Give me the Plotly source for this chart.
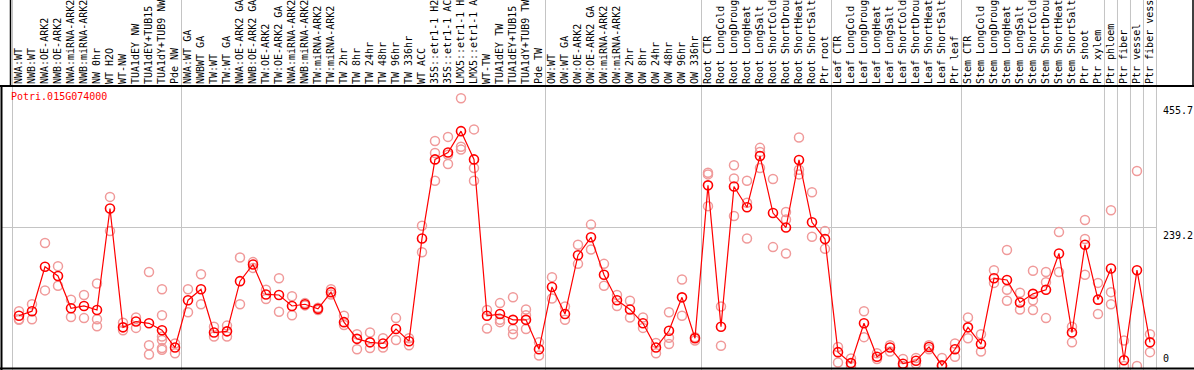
import plotly.graph_objects as go

gene_id = "Potri.015G074000"

labels = [
    "NWA:WT", "NWB:WT", "NWA:OE-ARK2", "NWB:OE-ARK2", "NWA:miRNA-ARK2", "NWB:miRNA-ARK2",
    "NW 0hr", "WT H2O", "WT-NW", "TUA1dEY NW", "TUA1dEY+TUB15 NW", "TUA1dY+TUB9 NW", "Pde NW",
    "NWA:WT GA", "NWBWT GA", "TW:WT", "TW:WT GA", "NWA:OE-ARK2 GA", "NWB:OE-ARK2 GA",
    "TW:OE-ARK2", "TW:OE-ARK2 GA", "NWA:miRNA-ARK2", "NWB:miRNA-ARK2", "TW:miRNA-ARK2",
    "TW:miRNA-ARK2", "TW 2hr", "TW 8hr", "TW 24hr", "TW 48hr", "TW 96hr", "TW 336hr", "WT ACC",
    "35S::etr1-1 H2O", "35S::etr1-1 ACC", "LMX5::etr1-1 H2O", "LMX5::etr1-1 ACC", "WT-TW",
    "TUA1dEY TW", "TUA1dEY+TUB15 TW", "TUA1dY+TUB9 TW", "Pde TW",
    "OW:WT", "OW:WT GA", "OW:OE-ARK2", "OW:OE-ARK2 GA", "OW:miRNA-ARK2", "OW:miRNA-ARK2",
    "OW 2hr", "OW 8hr", "OW 24hr", "OW 48hr", "OW 96hr", "OW 336hr",
    "Root CTR", "Root LongCold", "Root LongDrought", "Root LongHeat", "Root LongSalt",
    "Root ShortCold", "Root ShortDrought", "Root ShortHeat", "Root ShortSalt", "Ptr root",
    "Leaf CTR", "Leaf LongCold", "Leaf LongDrought", "Leaf LongHeat", "Leaf LongSalt",
    "Leaf ShortCold", "Leaf ShortDrought", "Leaf ShortHeat", "Leaf ShortSalt", "Ptr leaf",
    "Stem CTR", "Stem LongCold", "Stem LongDrought", "Stem LongHeat", "Stem LongSalt",
    "Stem ShortCold", "Stem ShortDrought", "Stem ShortHeat", "Stem ShortSalt", "Ptr shoot",
    "Ptr xylem", "Ptr phloem", "Ptr fiber", "Ptr vessel", "Ptr fiber vessel",
]

means = [
    87, 95, 172, 156, 100, 104, 97, 273, 67, 77, 74, 62, 32,
    114, 133, 58, 60, 147, 176, 124, 123, 104, 107, 99, 128, 76, 47, 41, 39, 64, 43, 221,
    358, 370, 407, 358, 87, 90, 80, 80, 29,
    137, 90, 192, 223, 158, 114, 98, 74, 32, 61, 119, 48,
    313, 68, 311, 275, 364, 265, 240, 357, 249, 220,
    24, 5, 74, 16, 32, 4, 9, 33, 1, 29,
    67, 38, 152, 149, 110, 125, 132, 195, 58, 210,
    115, 169, 10, 166, 41,
]

replicates = [
    [95, 81, 80], [107, 81], [213, 131], [173, 139], [115, 85], [123, 83], [143, 81, 69],
    [293, 234], [75, 62], [84, 66], [163, 36, 20], [133, 88, 51, 45, 31, 28], [39, 22],
    [133, 93], [159, 107], [68, 51], [70, 51], [188, 107], [180, 170], [132, 116], [152, 94],
    [121, 88], [109, 105], [101, 97], [133, 124], [87, 71], [55, 29], [58, 31], [48, 32],
    [83, 45], [48, 36], [243, 197], [390, 369, 321], [397, 366, 350], [464, 380, 375],
    [410, 343, 321], [97, 65], [109, 80, 76], [119, 64, 55], [98, 88, 64], [41, 18],
    [154, 117], [103, 80], [210, 177], [245, 202], [177, 139], [123, 104], [113, 84],
    [84, 66], [40, 22], [93, 49, 38], [150, 87], [50, 44],
    [335, 332, 277], [103, 35], [348, 325, 260], [321, 283, 221], [378, 371, 343],
    [324, 206], [267, 254, 195], [396, 340, 332], [301, 224], [234, 203],
    [33, 6], [13, 0], [95, 50], [22, 12], [36, 25], [12, 0], [14, 4], [36, 29], [14, 0], [39, 16],
    [84, 48], [55, 25], [166, 144], [201, 132, 113], [127, 98], [165, 114, 97],
    [163, 145, 83], [232, 163], [68, 41], [253, 220, 158],
    [144, 90], [270, 128, 107], [44, 0], [338, 0], [55, 24],
]

group_bounds = [-0.5, 12.5, 40.5, 52.5, 62.5, 72.5, 83.5, 84.5, 85.5, 86.5, 87.5]
y_ticks = [455.7, 239.2, 0]
y_tick_text = ["455.7", "239.2", "0"]

W, H = 1194, 370
FONT = "DejaVu Sans Mono"
RED = "#ff0000"
PINK = "#f09a9a"


def px_x(p):
    return p / W


def px_y(p):
    return 1 - p / H


x_idx = list(range(len(labels)))
rx, ry = [], []
for i, reps in enumerate(replicates):
    for v in reps:
        rx.append(i)
        ry.append(v)

fig = go.Figure()
fig.add_trace(go.Scatter(
    x=rx, y=ry, mode="markers",
    marker=dict(symbol="circle-open", size=9, color=PINK, line=dict(width=1.5, color=PINK)),
    hoverinfo="skip", showlegend=False, cliponaxis=True,
))
fig.add_trace(go.Scatter(
    x=x_idx, y=means, mode="lines+markers",
    line=dict(color=RED, width=1.2),
    marker=dict(symbol="circle-open", size=9, color=RED, line=dict(width=1.6, color=RED)),
    showlegend=False, cliponaxis=True,
))

shapes = []
for b in group_bounds:
    shapes.append(dict(type="line", xref="x", yref="paper", x0=b, x1=b,
                       y0=px_y(370), y1=px_y(0), line=dict(color="#c4c4c4", width=1), layer="below"))
shapes += [
    dict(type="line", xref="paper", yref="paper", x0=0, x1=1, y0=px_y(86), y1=px_y(86),
         line=dict(color="black", width=2)),
    dict(type="line", xref="paper", yref="paper", x0=0, x1=1, y0=px_y(368.5), y1=px_y(368.5),
         line=dict(color="black", width=2)),
    dict(type="line", xref="paper", yref="paper", x0=px_x(1.5), x1=px_x(1.5), y0=px_y(86), y1=px_y(370),
         line=dict(color="black", width=2)),
    dict(type="line", xref="paper", yref="paper", x0=px_x(10.5), x1=px_x(10.5), y0=px_y(0), y1=px_y(86),
         line=dict(color="black", width=1.5)),
    dict(type="line", xref="paper", yref="paper", x0=px_x(1193), x1=px_x(1193), y0=px_y(0), y1=px_y(86),
         line=dict(color="black", width=1.5)),
]

annotations = [
    dict(text=gene_id, xref="paper", yref="paper", x=px_x(8.5), y=px_y(89.5),
         xanchor="left", yanchor="top", showarrow=False,
         font=dict(family=FONT, size=10, color=RED)),
]
for v, t in zip(y_ticks, y_tick_text):
    annotations.append(dict(
        text=t, xref="paper", yref="y", x=px_x(1161), y=v,
        xanchor="left", yanchor=("bottom" if v == 0 else "top"), showarrow=False,
        font=dict(family=FONT, size=10, color="black"),
    ))

fig.update_layout(
    width=W, height=H,
    margin=dict(l=0, r=0, t=0, b=0),
    paper_bgcolor="white", plot_bgcolor="white",
    shapes=shapes, annotations=annotations,
    xaxis=dict(
        domain=[px_x(1), px_x(1157)],
        range=[-1.385, 87.54],
        side="top",
        tickmode="array", tickvals=x_idx, ticktext=labels, tickangle=-90,
        tickfont=dict(family=FONT, size=10, color="black"),
        ticks="", showgrid=False, zeroline=False, showline=False,
        ticklabelstandoff=1, automargin=False,
    ),
    yaxis=dict(
        domain=[px_y(368), px_y(86)],
        range=[-3.47, 485.2],
        tickmode="array", tickvals=[239.2],
        showticklabels=False, ticks="",
        showgrid=True, gridcolor="#c4c4c4", gridwidth=1,
        zeroline=False, showline=False, automargin=False,
    ),
)

fig.write_html(
    "out.html",
    config={"displayModeBar": False},
    post_script="document.body.style.margin='0';document.body.style.padding='0';document.body.style.overflow='hidden';",
)
